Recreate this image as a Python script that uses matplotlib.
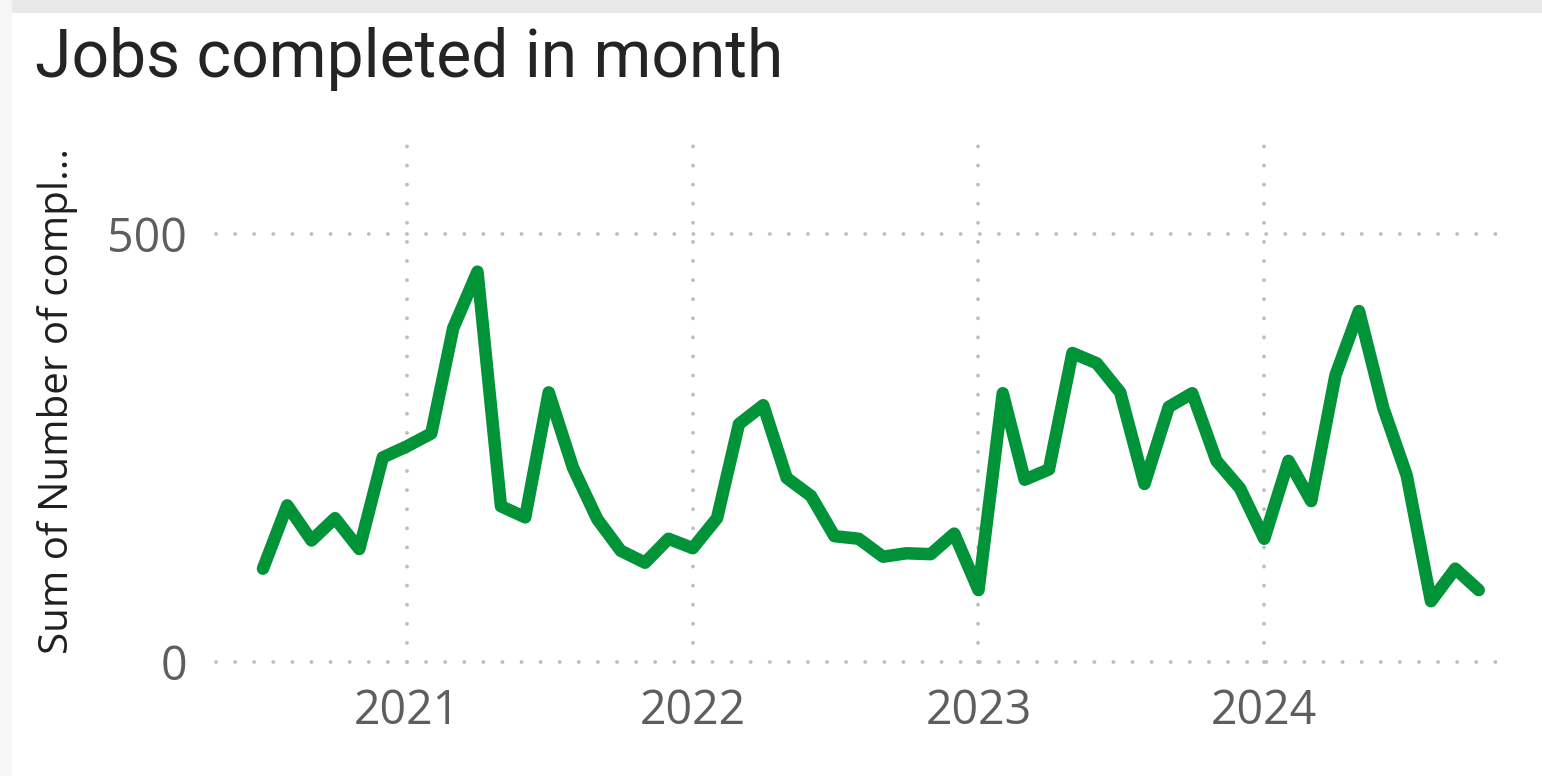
import numpy as np
import matplotlib
matplotlib.use("Agg")
import matplotlib.pyplot as plt
import matplotlib.dates as mdates
from matplotlib.patches import Rectangle

# Data: monthly jobs completed, Jul 2020 - Oct 2024
months = np.arange(np.datetime64("2020-07"), np.datetime64("2024-11"), dtype="datetime64[M]")
jobs = [109, 183, 142, 168, 132, 239,
        252, 267, 390, 456, 182, 169, 315, 227, 167, 130, 116, 144,
        133, 168, 278, 300, 215, 194, 147, 144, 123, 127, 126, 150,
        84, 314, 213, 225, 361, 349, 315, 208, 298, 314, 235, 203,
        144, 235, 188, 335, 410, 297, 218, 71, 109, 84]
year_ticks = ["2021", "2022", "2023", "2024"]
y_ticks = [0, 500]

dates = months.astype("datetime64[D]")

W, H = 1542, 776
fig = plt.figure(figsize=(W / 100, H / 100), dpi=100)
fig.patch.set_facecolor("white")
# card shadow / border
fig.patches.append(Rectangle((0, 1 - 13 / H), 1, 13 / H, transform=fig.transFigure,
                             facecolor="#e9e9e9", edgecolor="none", zorder=0))
fig.patches.append(Rectangle((0, 0), 12 / W, 1, transform=fig.transFigure,
                             facecolor="#f6f6f6", edgecolor="none", zorder=0))

ax = fig.add_axes([216 / W, (H - 662) / H, (1503 - 216) / W, (662 - 145) / H])
ax.plot(dates, jobs, color="#009337", lw=9, solid_joinstyle="round",
        solid_capstyle="round", zorder=3)

ax.set_xlim(np.datetime64("2020-05-02"), np.datetime64("2024-11-01"))
ax.set_ylim(0, 604)

tick_dates = [np.datetime64(y + "-01-01") for y in year_ticks]
ax.set_xticks(mdates.date2num(tick_dates))
ax.set_xticklabels(year_ticks)
ax.set_yticks(y_ticks)
ax.set_yticklabels([str(v) for v in y_ticks])

for s in ax.spines.values():
    s.set_visible(False)
ax.tick_params(length=0, labelsize=33.5, labelcolor="#605e5c")
ax.tick_params(axis="x", pad=18)
ax.tick_params(axis="y", pad=21)
for lab in ax.get_xticklabels() + ax.get_yticklabels():
    lab.set_family("Open Sans")

ax.grid(True, color="#bebebe", lw=2.8, linestyle=(0, (0.01, 4.9)),
        dash_capstyle="round", clip_on=False)
ax.set_axisbelow(True)

ax.set_ylabel("Sum of Number of compl...", fontsize=29, family="Open Sans",
              color="#201f1e")
ax.yaxis.set_label_coords(-(216 - 78) / (1503 - 216), (662 - 401) / (662 - 145))

fig.text(35 / W, 1 - 77 / H, "Jobs completed in month", fontsize=47.5,
         family="Roboto", color="#252423", ha="left", va="baseline")

fig.savefig("out.png", dpi=100)
